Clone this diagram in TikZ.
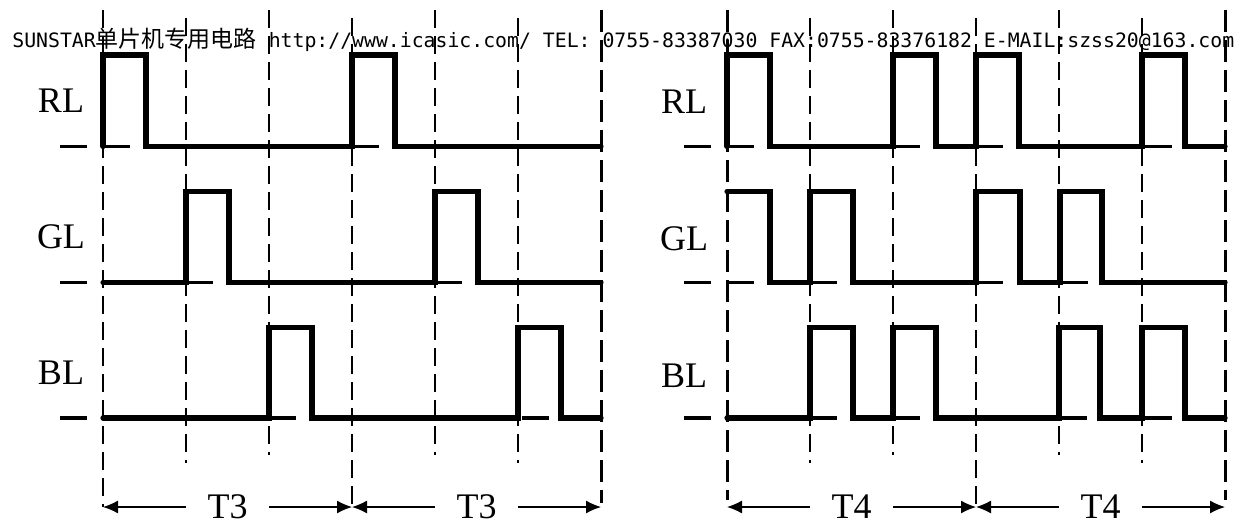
\documentclass[tikz,border=0pt]{standalone}
\usepackage{fontspec}
\usetikzlibrary{arrows.meta}
\newfontfamily\lblfont{Liberation Serif}
\newfontfamily\hdrfont{DejaVu Sans Mono}
\newfontfamily\cjkfont{Noto Sans CJK SC}

\tikzset{
  wave/.style={line width=2.6pt, line cap=round},
  refdash/.style={line width=1.6pt},
  gridthin/.style={line width=0.7pt, dash pattern=on 9pt off 4pt},
  gridthick/.style={line width=1.5pt, dash pattern=on 11pt off 4pt},
  dimarrow/.style={line width=0.6pt, -{Latex[length=7.5pt,width=6.5pt]}},
  sig/.style={font=\lblfont\fontsize{18}{18}\selectfont, inner sep=0pt},
}

\begin{document}
\begin{tikzpicture}[x=0.5pt, y=-0.5pt]
\useasboundingbox (0,0) rectangle (1260,525);

% header line
\node [anchor=base west, inner sep=0pt] (hdr) at (12,47) {\hdrfont\fontsize{9.9}{10}\selectfont SUNSTAR{\cjkfont\fontsize{11.5}{12}\selectfont 单片机专用电路} http://www.icasic.com/ TEL: 0755-83387030 FAX:0755-83376182 E-MAIL:szss20@163.com};

% dashed time marks
\foreach \x/\top/\bot in {103/10/507, 186/18/463, 269/10/455, 352/18/507, 435/10/455, 518/18/463,
                          810/18/463, 893/10/455, 976/18/507, 1059/10/455, 1142/18/463}
  \draw [gridthin] (\x,\top) -- (\x,\bot);
\draw [gridthick] (601,10) -- (601,503);
\draw [gridthick] (727,10) -- (727,500);
\draw [gridthick] (1225,10) -- (1225,500);

% zero level marks
\foreach \x/\y in {60/146.5, 60/282.5, 60/418, 684/146.5, 684/282.5, 684/418,
                   103/146.5, 352/146.5, 186/282.5, 435/282.5, 269/418, 522/418,
                   727/146.5, 893/146.5, 976/146.5, 1145/146.5,
                   727/282.5, 810/282.5, 976/282.5, 1061/282.5,
                   810/418, 893/418, 1060/418, 1145/418}
  \draw [refdash] (\x,\y) -- (\x+27,\y);

% left: T3
\draw [wave] (103,146.5) -- (103,55) -- (146,55) -- (146,146.5) -- (352,146.5) -- (352,55) -- (395,55) -- (395,146.5) -- (601,146.5);
\draw [wave] (103,282.5) -- (186,282.5) -- (186,191.5) -- (229,191.5) -- (229,282.5) -- (435,282.5) -- (435,191.5) -- (478,191.5) -- (478,282.5) -- (601,282.5);
\draw [wave] (103,418) -- (269,418) -- (269,327.5) -- (312,327.5) -- (312,418) -- (518,418) -- (518,327.5) -- (561,327.5) -- (561,418) -- (601,418);

% right: T4
\draw [wave] (727,146.5) -- (727,55) -- (770,55) -- (770,146.5) -- (893,146.5) -- (893,55) -- (936,55) -- (936,146.5) -- (976,146.5) -- (976,55) -- (1019,55) -- (1019,146.5) -- (1142,146.5) -- (1142,55) -- (1185,55) -- (1185,146.5) -- (1225,146.5);
\draw [wave] (727,191.5) -- (770,191.5) -- (770,282.5) -- (810,282.5) -- (810,191.5) -- (853,191.5) -- (853,282.5) -- (976,282.5) -- (976,191.5) -- (1020,191.5) -- (1020,282.5) -- (1060,282.5) -- (1060,191.5) -- (1102,191.5) -- (1102,282.5) -- (1225,282.5);
\draw [wave] (727,418) -- (810,418) -- (810,327.5) -- (853,327.5) -- (853,418) -- (893,418) -- (893,327.5) -- (936,327.5) -- (936,418) -- (1059,418) -- (1059,327.5) -- (1100,327.5) -- (1100,418) -- (1142,418) -- (1142,327.5) -- (1185,327.5) -- (1185,418) -- (1225,418);

% signal names
\node [sig] (rl1) at (61,101) {RL};
\node [sig] (gl1) at (61,237) {GL};
\node [sig] (bl1) at (61,373) {BL};
\node [sig] (rl2) at (684,102) {RL};
\node [sig] (gl2) at (684,239) {GL};
\node [sig] (bl2) at (684,376) {BL};

% periods
\coordinate (a0) at (103,507);
\coordinate (a1) at (352,507);
\coordinate (a2) at (601,507);
\coordinate (b0) at (727,507);
\coordinate (b1) at (976,507);
\coordinate (b2) at (1225,507);
\node [sig, inner xsep=10.5pt] (t3a) at (227.5,507) {T3};
\node [sig, inner xsep=10.5pt] (t3b) at (476.5,507) {T3};
\node [sig, inner xsep=10.5pt] (t4a) at (851.5,507) {T4};
\node [sig, inner xsep=10.5pt] (t4b) at (1100.5,507) {T4};
\draw [dimarrow] (t3a) -- (a0);
\draw [dimarrow] (t3a) -- (a1);
\draw [dimarrow] (t3b) -- (a1);
\draw [dimarrow] (t3b) -- (a2);
\draw [dimarrow] (t4a) -- (b0);
\draw [dimarrow] (t4a) -- (b1);
\draw [dimarrow] (t4b) -- (b1);
\draw [dimarrow] (t4b) -- (b2);
\end{tikzpicture}
\end{document}
